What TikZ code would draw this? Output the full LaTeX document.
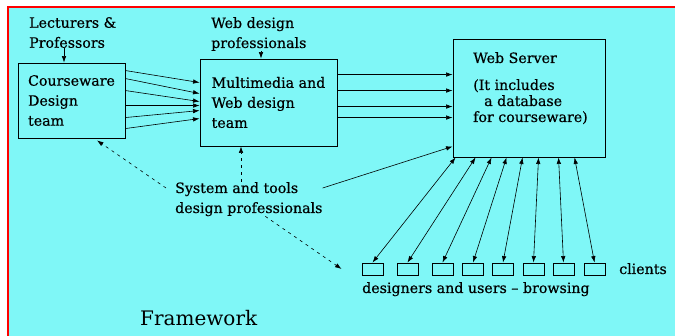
\documentclass[tikz,border=0pt]{standalone}
\usepackage{fontspec}
\setmainfont{DejaVu Serif}[FakeBold=0.5]
\newfontfamily\titlefont{DejaVu Serif}
\usetikzlibrary{arrows.meta, calc}
\definecolor{sheet}{RGB}{127,247,247}

\tikzset{
	box/.style={draw, line width=0.9pt, align=left, inner sep=0pt},
	client/.style={draw, line width=0.9pt, minimum width=21pt, minimum height=12pt, inner sep=0pt},
	flow/.style={->, line width=0.6pt},
	link/.style={<->, line width=0.6pt},
	hint/.style={->, line width=0.6pt, dash pattern=on 3pt off 4pt},
	tag/.style={align=left, inner sep=0pt},
}

\begin{document}
\begin{tikzpicture}[x=1pt, y=-1pt, >={Latex[length=6.5pt,width=4.5pt]},
	font=\fontsize{14.2}{20}\selectfont]

\useasboundingbox (0,0) rectangle (675,336);

% ================= sheet =================
\fill[sheet] (7.5,7.5) rectangle (675,336);
\draw[red, line width=2pt] (7.5,336) -- (7.5,7.5) -- (675,7.5);

% ================= teams and server =================
\node[box, minimum width=107pt, minimum height=75pt] (cdt) at (71.5,100.5)
	{Courseware\\Design\\team};
\node[box, minimum width=137pt, minimum height=87pt] (mwt) at (268.5,102.5)
	{Multimedia and\\Web design\\team};
\node[box, minimum width=152pt, minimum height=118pt] (srv) at (529,98) {};
\node[tag, anchor=north west, font=\fontsize{14.2}{16}\selectfont] (srvtxt) at (473,52)
	{Web Server\\[11pt](It includes\\\hspace*{11pt}a database\\for courseware)};

% who feeds whom
\node[tag, anchor=north west] (lec) at (29,17) {Lecturers \&\\Professors};
\node[tag, anchor=north west] (wdp) at (211,17) {Web design\\professionals};
\node[tag, anchor=north west] (sys) at (175,182) {System and tools\\design professionals};

\draw[flow] ([xshift=-7.5pt]cdt.north |- lec.south) -- ([xshift=-7.5pt]cdt.north);
\draw[flow] ([xshift=-7.5pt]mwt.north |- wdp.south) -- ([xshift=-7.5pt]mwt.north);

% courseware -> multimedia
\foreach \a/\b in {8/24, 16/35, 28/43, 43/47, 55/52, 66/60}
	\draw[flow] ([yshift=-\a pt]cdt.north east) -- ([yshift=-\b pt]mwt.north west);

% multimedia -> server
\foreach \a in {16, 32, 48, 59}
	\draw[flow] ([yshift=-\a pt]mwt.north east) -- ([yshift=-\a pt]mwt.north east -| srv.west);

% tools people
\draw[flow] ([yshift=-6pt]sys.north east) -- ([yshift=11pt]srv.south west);
\draw[hint] ([shift={(-9pt,-6pt)}]sys.north west) -- ([shift={(25.5pt,-2pt)}]cdt.south);
\draw[hint] ([xshift=-27.5pt]mwt.south |- sys.north) -- ([xshift=-27.5pt]mwt.south);

% ================= clients =================
\foreach \i/\x in {1/372.5, 2/407.5, 3/442.5, 4/473, 5/503, 6/533.5, 7/563.5, 8/594.5}
	\node[client] (c\i) at (\x,269) {};

\foreach \i/\dx in {1/3, 2/23, 3/39, 4/54, 5/70, 6/86, 7/106, 8/122}
	\draw[link] ([xshift=\dx pt]srv.south west) -- (c\i.north);

\draw[hint] ([xshift=16.5pt]sys.south) -- ([xshift=-20pt]c1.west);

\node[tag, anchor=base west] (cli) at (619,274) {clients};
\node[tag, anchor=base west] (dub) at (362,293) {designers and users -- browsing};

\node[tag, anchor=base west, font=\fontsize{20}{24}\titlefont] (frm) at (140,326) {Framework};

\end{tikzpicture}
\end{document}
